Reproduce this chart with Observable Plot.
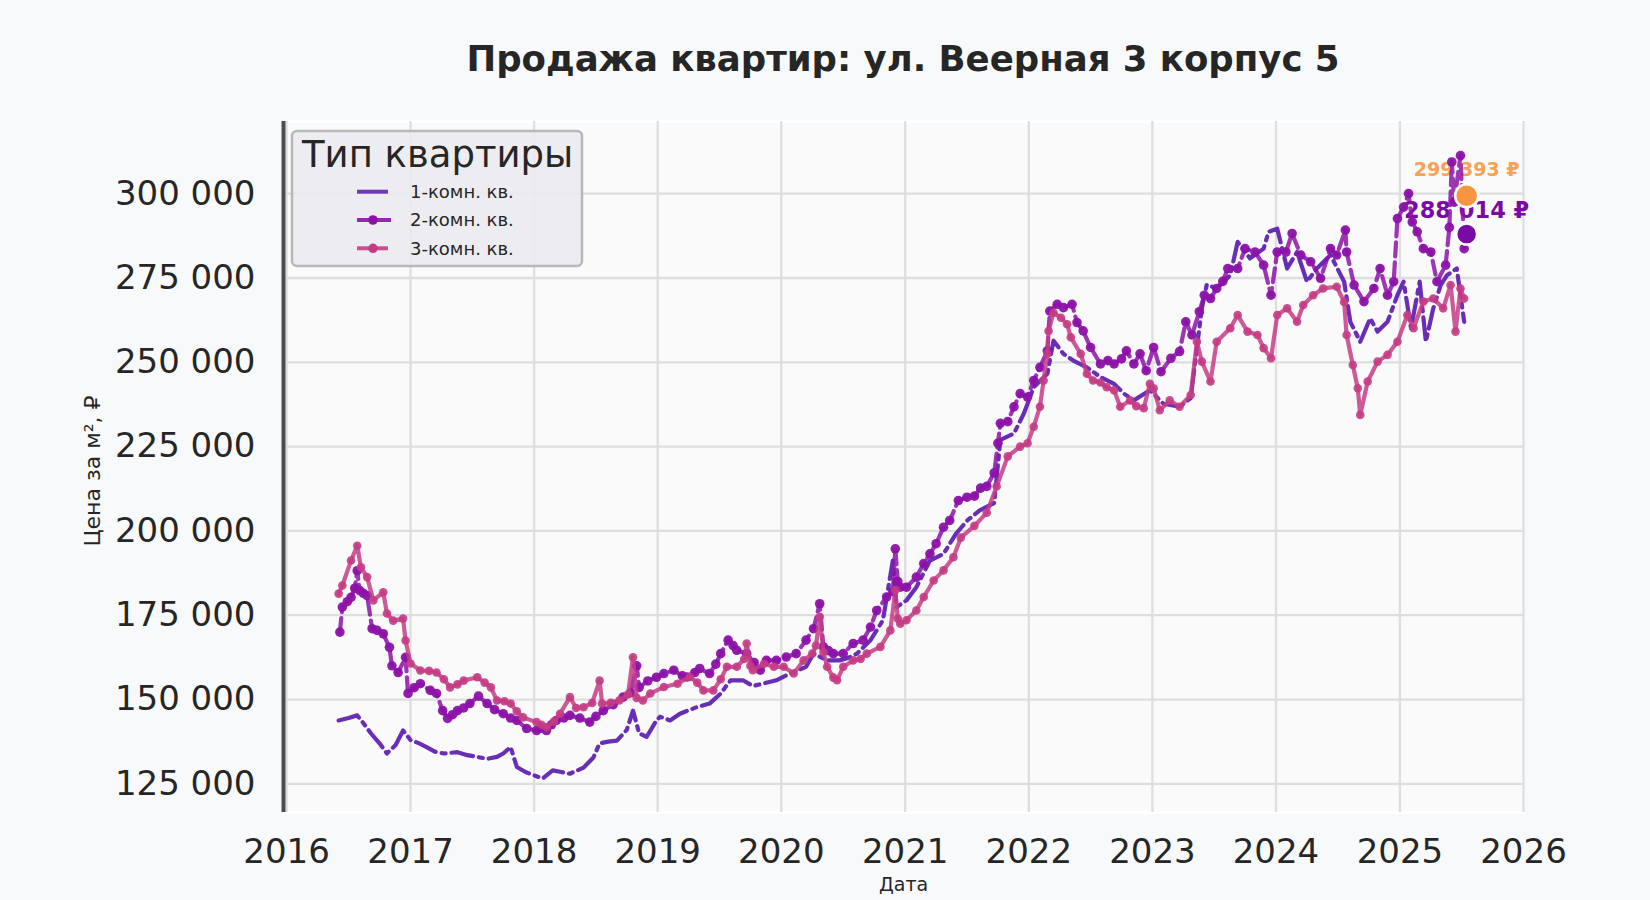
<!DOCTYPE html>
<html>
<head>
<meta charset="utf-8">
<script src="https://cdn.jsdelivr.net/npm/d3@7"></script>
<script src="https://cdn.jsdelivr.net/npm/@observablehq/plot@0.6"></script>
<style>
  html, body { margin: 0; padding: 0; background: #f8f9fb; }
  body { width: 1650px; height: 900px; position: relative; overflow: hidden; font-family: "DejaVu Sans", sans-serif; color: #262626; }
  #title { position: absolute; left: 903px; top: 58px; transform: translate(-50%, -50%); font-weight: bold; font-size: 35.5px; white-space: nowrap; color: #262626; }
  #chart { position: absolute; left: 0; top: 100px; }
  #overlay { position: absolute; left: 0; top: 0; pointer-events: none; }
</style>
</head>
<body>
<div id="title">Продажа квартир: ул. Веерная 3 корпус 5</div>
<div id="chart"></div>
<svg id="overlay" width="1650" height="900"></svg>
<script>
// ---- Data (dates as decimal years, prices in thousand ₽ per m²) ----
const seriesNames = ["1-комн. кв.", "2-комн. кв.", "3-комн. кв."];

const t1 = [2016.42,2016.5,2016.57,2016.62,2016.68,2016.75,2016.81,2016.88,2016.94,2017.0,2017.07,2017.13,2017.2,2017.27,2017.38,2017.46,2017.54,2017.62,2017.7,2017.75,2017.81,2017.86,2017.93,2018.0,2018.07,2018.15,2018.22,2018.29,2018.4,2018.48,2018.53,2018.6,2018.67,2018.75,2018.8,2018.85,2018.91,2018.99,2019.02,2019.1,2019.18,2019.32,2019.42,2019.51,2019.59,2019.69,2019.77,2019.85,2019.96,2020.07,2020.2,2020.26,2020.37,2020.47,2020.55,2020.61,2020.72,2020.82,2020.9,2020.93,2021.01,2021.09,2021.2,2021.31,2021.41,2021.5,2021.6,2021.72,2021.77,2021.88,2021.96,2022.04,2022.15,2022.2,2022.28,2022.36,2022.47,2022.58,2022.69,2022.77,2022.85,2022.98,2023.09,2023.22,2023.31,2023.36,2023.4,2023.44,2023.52,2023.63,2023.69,2023.79,2023.9,2023.94,2024.01,2024.09,2024.17,2024.25,2024.33,2024.44,2024.55,2024.6,2024.68,2024.76,2024.82,2024.9,2024.98,2025.03,2025.09,2025.16,2025.21,2025.27,2025.33,2025.38,2025.46,2025.52];
const v1 = [143.8,144.5,145.3,143,140,137,134,136.5,140.8,138,137,135.9,134.5,134,134.4,133.5,133,132.4,133,134,135.9,130,128.5,127.5,126.6,129,128.5,128,129.8,132.8,137,137.5,137.8,141,146.7,140,138.9,143.8,144.9,143.8,145.8,147.8,148.8,151.8,155.7,155.7,154,154.7,155.7,157.7,159.7,163.6,161.6,161.6,162.5,163.6,167.6,173.5,191.2,177.4,179.4,183.3,191.2,193.2,199.1,203,206,208.3,227,228.9,234.8,242.6,246.6,256.4,252.5,250.5,248.5,245.6,243.6,240.7,238.7,241.7,237.7,236.8,239.4,254.2,266,273,271.9,275.8,285.7,280.8,283.7,288.7,289.6,277.8,282.7,273.9,277.8,281.8,273.9,262,256.1,263,259.1,262,269.9,273.9,260.1,273.9,256.1,266,272.9,275.8,277.8,262];

const t2 = [2016.43,2016.45,2016.49,2016.52,2016.55,2016.57,2016.59,2016.62,2016.65,2016.69,2016.73,2016.78,2016.83,2016.85,2016.9,2016.96,2016.98,2017.03,2017.08,2017.16,2017.21,2017.26,2017.3,2017.34,2017.38,2017.43,2017.48,2017.55,2017.62,2017.68,2017.75,2017.81,2017.86,2017.94,2018.02,2018.06,2018.1,2018.14,2018.18,2018.24,2018.29,2018.37,2018.45,2018.5,2018.56,2018.64,2018.72,2018.78,2018.83,2018.85,2018.92,2018.99,2019.05,2019.13,2019.2,2019.24,2019.3,2019.34,2019.42,2019.47,2019.51,2019.57,2019.61,2019.64,2019.72,2019.78,2019.83,2019.88,2019.96,2020.04,2020.12,2020.2,2020.26,2020.31,2020.34,2020.38,2020.42,2020.5,2020.58,2020.66,2020.72,2020.77,2020.85,2020.9,2020.92,2020.94,2020.96,2021.01,2021.09,2021.15,2021.2,2021.25,2021.31,2021.36,2021.43,2021.5,2021.56,2021.61,2021.66,2021.72,2021.75,2021.77,2021.83,2021.88,2021.93,2021.99,2022.04,2022.09,2022.15,2022.17,2022.23,2022.28,2022.35,2022.39,2022.44,2022.5,2022.58,2022.64,2022.69,2022.75,2022.79,2022.85,2022.9,2022.95,2023.01,2023.07,2023.15,2023.22,2023.27,2023.32,2023.38,2023.42,2023.47,2023.52,2023.57,2023.61,2023.69,2023.75,2023.83,2023.9,2023.96,2024.01,2024.08,2024.13,2024.2,2024.28,2024.36,2024.44,2024.49,2024.56,2024.57,2024.63,2024.71,2024.79,2024.84,2024.9,2024.95,2024.98,2025.03,2025.07,2025.1,2025.14,2025.19,2025.25,2025.3,2025.37,2025.4,2025.42,2025.44,2025.49,2025.52];
const v2 = [170,177.4,179,180.3,183,188.2,182.3,181.5,180.8,171,170.5,169.5,165.5,160,158,162.5,151.8,153.5,154.7,152.7,151.8,146.7,144.4,145.5,146.7,147.5,148.8,151,148.8,147,145.8,144.5,143.8,141.4,140.8,141.5,140.8,142.5,143.8,144.5,145.3,144.5,143.3,145,146.7,148.5,150.7,152,160,153.6,155.5,156.6,157.7,158.7,157,156.7,158,159.2,157.7,160.5,163.6,167.6,166,164.6,163.6,161,158.7,161.6,161.6,162.6,163.6,167.6,171,178.4,165.6,164.5,163.6,163.6,166.6,167.6,171.5,176.4,180.4,182,194.7,185,183.3,183.3,186.3,190.3,193.2,196.2,201.1,203.1,209,210,210.3,212.7,213.2,217.2,226,231.9,232.4,236.8,240.7,239.7,244.6,248.5,253.4,265.2,267.2,266.2,267.2,261.8,259.3,254.4,249.5,250.5,249.5,251,253.4,249.5,252.5,247.5,254.4,247.2,251.2,253.2,262,258.1,265,269.9,268.9,271.9,274,277.8,277.8,283.7,282.7,278.8,269.9,282.7,282.7,288.2,281.8,279.8,274.9,283.7,281.8,289.2,282.7,272.9,268,271.9,277.8,269.9,273.9,292.6,296,300,291.6,288.7,283.7,282.7,273.9,278.8,290,309.4,297.5,311.3,283.7];

const t3 = [2016.42,2016.45,2016.52,2016.57,2016.6,2016.65,2016.7,2016.78,2016.81,2016.86,2016.94,2016.96,2017.0,2017.08,2017.15,2017.21,2017.27,2017.32,2017.38,2017.43,2017.54,2017.6,2017.65,2017.7,2017.76,2017.81,2017.86,2017.91,2018.02,2018.06,2018.1,2018.16,2018.21,2018.29,2018.34,2018.4,2018.47,2018.53,2018.55,2018.62,2018.69,2018.76,2018.8,2018.83,2018.88,2018.94,2019.05,2019.16,2019.26,2019.32,2019.37,2019.45,2019.51,2019.56,2019.64,2019.7,2019.72,2019.75,2019.77,2019.86,2019.94,2020.02,2020.1,2020.18,2020.25,2020.28,2020.31,2020.34,2020.37,2020.42,2020.45,2020.5,2020.58,2020.64,2020.69,2020.8,2020.88,2020.92,2020.94,2020.96,2021.01,2021.09,2021.15,2021.23,2021.31,2021.39,2021.45,2021.56,2021.66,2021.74,2021.83,2021.93,2021.99,2022.04,2022.09,2022.12,2022.15,2022.16,2022.2,2022.26,2022.31,2022.34,2022.42,2022.47,2022.52,2022.58,2022.63,2022.69,2022.74,2022.82,2022.87,2022.93,2022.98,2023.01,2023.06,2023.14,2023.22,2023.31,2023.36,2023.4,2023.47,2023.52,2023.63,2023.69,2023.77,2023.85,2023.9,2023.96,2024.01,2024.09,2024.17,2024.22,2024.3,2024.38,2024.49,2024.55,2024.57,2024.62,2024.66,2024.68,2024.74,2024.82,2024.9,2024.98,2025.06,2025.11,2025.19,2025.27,2025.35,2025.41,2025.45,2025.49,2025.52];
const v3 = [181.4,183.8,191.2,195.6,189.2,186.3,179.4,181.8,175.5,173.4,174,167.5,160.7,158.6,158.5,158,156,153.6,154.5,155.6,156.6,155,153.6,149.7,149.5,148.8,146.5,144.7,143.3,142.5,141.8,143.5,145.8,150.7,147.5,147.7,149,155.6,148.8,149,149.7,151.5,162.5,150.5,149.7,151.8,153.7,154.7,156.7,155,152.7,152.7,156,159.7,159.7,162,166.6,160,158.7,160.6,159.7,159.7,157.7,161.6,163.6,166,174.5,164,159.7,156.5,155.7,159.7,161.6,162,163.6,165.6,170.5,182.4,174,172.5,173.5,176.4,180.4,185.3,188.3,192.2,198,201.5,205.4,213.2,222.1,225,226,230.9,236.8,244.6,252.5,259.3,264.7,263.2,261.3,257.4,252.5,246.6,244.6,244,242.6,241.7,236.8,238.7,237,236.4,243.6,242.3,235.8,238.7,236.8,240.3,256.1,250.2,244.3,256.1,260.1,264,259.1,258.1,254.2,251.2,264,266,262,267,269.9,271.9,272.4,267.9,258.1,249.2,242.3,234.4,244.3,250.2,252.2,256.1,264,260.1,268,268.9,266,272.9,259.1,271.9,268.9];

// latest-value annotations
const annDate = [2025.54, 2025.54];
const annValue = [299393, 288014];
const annLabel = ["299 393 ₽", "288 014 ₽"];

const yTicks = [125000, 150000, 175000, 200000, 225000, 250000, 275000, 300000];
const xTickYears = [2016, 2017, 2018, 2019, 2020, 2021, 2022, 2023, 2024, 2025, 2026];

// ---- helpers ----
function decToDate(t) {
  const y = Math.floor(t);
  const s = Date.UTC(y, 0, 1), e = Date.UTC(y + 1, 0, 1);
  return new Date(s + (t - y) * (e - s));
}
const mk = (ts, vs) => ts.map((t, i) => ({date: decToDate(t), value: vs[i] * 1000}));
const d1 = mk(t1, v1), d2 = mk(t2, v2), d3s = mk(t3, v3);
const ann = annDate.map((t, i) => ({date: decToDate(t), value: annValue[i], label: annLabel[i]}));

const C1 = "#6023b2", C2 = "#8c12a8", C3 = "#c43c84";
const ORANGE = "#f89540", PURPLE = "#7a0aa6";
const fmt = d => d3.format(",")(d).replace(/,/g, " ");

const xDomain = [decToDate(2015.975), decToDate(2026.0)];

const plot = Plot.plot({
  width: 1650,
  height: 800,
  marginLeft: 283,
  marginRight: 127,
  marginTop: 21,
  marginBottom: 88,
  style: {background: "transparent", fontFamily: "DejaVu Sans", color: "#262626"},
  x: {type: "utc", domain: xDomain},
  y: {domain: [116500, 321400]},
  marks: [
    Plot.frame({fill: "#fafafa", stroke: "#ffffff", strokeWidth: 3}),
    Plot.gridX(xTickYears.map(y => decToDate(y)), {stroke: "#dedede", strokeOpacity: 1, strokeWidth: 2.3}),
    Plot.gridY(yTicks, {stroke: "#dedede", strokeOpacity: 1, strokeWidth: 2.3}),
    // annotation labels (drawn beneath the lines)
    Plot.text([ann[0]], {x: "date", y: "value", text: "label", dy: -26, fill: ORANGE, fillOpacity: 0.9, fontWeight: "bold", fontSize: 19}),
    Plot.text([ann[1]], {x: "date", y: "value", text: "label", dy: -23, fill: PURPLE, fontWeight: "bold", fontSize: 22.5}),
    // series
    Plot.line(d1, {x: "date", y: "value", stroke: C1, strokeWidth: 4.2, strokeOpacity: 0.95, strokeDasharray: "22 6 4 6"}),
    Plot.line(d2, {x: "date", y: "value", stroke: C2, strokeWidth: 4.2, strokeOpacity: 0.85, strokeDasharray: "14 6"}),
    Plot.dot(d2, {x: "date", y: "value", r: 4.8, fill: C2, fillOpacity: 0.95, stroke: null}),
    Plot.line(d3s, {x: "date", y: "value", stroke: C3, strokeWidth: 4.2, strokeOpacity: 0.85}),
    Plot.dot(d3s, {x: "date", y: "value", r: 4.3, fill: C3, fillOpacity: 0.9, stroke: null}),
    // annotation dots
    Plot.dot([ann[0]], {x: "date", y: "value", r: 11.5, fill: ORANGE, stroke: "white", strokeWidth: 2.5}),
    Plot.dot([ann[1]], {x: "date", y: "value", r: 10.5, fill: PURPLE, stroke: "white", strokeWidth: 2.5}),
    // left spine
    Plot.ruleX([xDomain[0]], {stroke: "#4d4d4d", strokeWidth: 4}),
    // axes
    Plot.axisX(xTickYears.map(y => decToDate(y)), {tickFormat: d3.utcFormat("%Y"), tickSize: 0, tickPadding: 26, fontSize: 34, label: null, fill: "#262626"}),
    Plot.axisY(yTicks, {tickFormat: fmt, tickSize: 0, tickPadding: 28, fontSize: 34, label: null, fill: "#262626"}),
    // axis titles
    Plot.text(["Дата"], {frameAnchor: "bottom", dy: 78, fontSize: 19, fill: "#262626"}),
    Plot.text(["Цена за м², ₽"], {frameAnchor: "left", textAnchor: "middle", dx: -191, dy: 4, rotate: -90, fontSize: 22, fill: "#262626"})
  ]
});
document.getElementById("chart").appendChild(plot);

// ---- Legend overlay ----
const ov = d3.select("#overlay");
const lg = ov.append("g");
lg.append("rect").attr("x", 292).attr("y", 131).attr("width", 290).attr("height", 135)
  .attr("rx", 5).attr("fill", "#ebebf0").attr("fill-opacity", 0.9)
  .attr("stroke", "#b8b8b8").attr("stroke-width", 2.5);
lg.append("text").attr("x", 302).attr("y", 166.5).attr("font-size", 37)
  .attr("font-family", "DejaVu Sans").attr("fill", "#262626").text("Тип квартиры");
const rows = [
  {name: seriesNames[0], color: C1, dash: null, marker: false, y: 191.7},
  {name: seriesNames[1], color: C2, dash: "14 6", marker: true, y: 220},
  {name: seriesNames[2], color: C3, dash: null, marker: true, y: 248.3}
];
rows.forEach(r => {
  const ln = lg.append("line").attr("x1", 357).attr("x2", r.dash ? 395 : 388).attr("y1", r.y).attr("y2", r.y)
    .attr("stroke", r.color).attr("stroke-width", 4).attr("stroke-opacity", 0.9);
  if (r.dash) ln.attr("stroke-dasharray", r.dash);
  if (r.marker) lg.append("circle").attr("cx", 373).attr("cy", r.y).attr("r", 4.8).attr("fill", r.color);
  lg.append("text").attr("x", 410).attr("y", r.y).attr("dy", "0.35em").attr("font-size", 18)
    .attr("font-family", "DejaVu Sans").attr("fill", "#262626").text(r.name);
});
</script>
</body>
</html>
